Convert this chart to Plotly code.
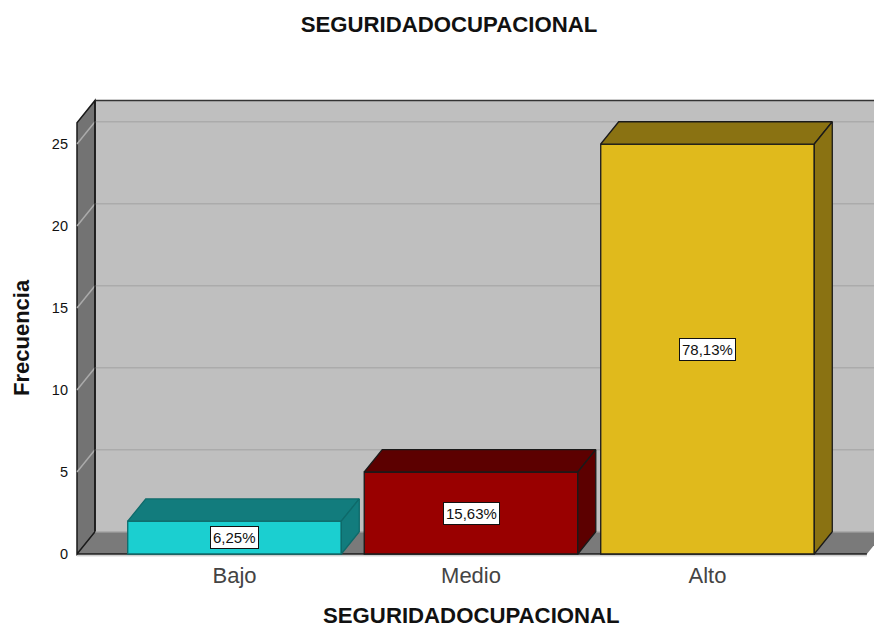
import plotly.graph_objects as go

# --- data ---
categories = ["Bajo", "Medio", "Alto"]
frequencies = [2, 5, 25]
percent_labels = ["6,25%", "15,63%", "78,13%"]
y_ticks = [0, 5, 10, 15, 20, 25]
title_text = "SEGURIDADOCUPACIONAL"
y_title = "Frecuencia"

# --- styling ---
front_colors = ["#1BCFD0", "#990000", "#E0BA1C"]
top_colors = ["#127C7D", "#5C0000", "#8A7212"]
edge_colors = ["#0E6A6A", "#1A1A1A", "#1A1A1A"]
FONT = "Liberation Sans"
BAR_WIDTH = 0.903
DEPTH_X = 0.0761   # oblique depth in category units
DEPTH_Y = 1.36     # oblique depth in value units
WALL_LEFT, WALL_RIGHT, WALL_TOP = -0.666, 2.674, 26.3

positions = list(range(len(categories)))
fig = go.Figure()


def poly(xs, ys, fill, edge, width=1.3):
    path = "M " + " L ".join(f"{x},{y}" for x, y in zip(xs, ys)) + " Z"
    return dict(type="path", path=path, xref="x", yref="y", layer="below",
                fillcolor=fill, line=dict(color=edge, width=width))


def seg(x0, y0, x1, y1, color, width=1.3):
    return dict(type="line", x0=x0, y0=y0, x1=x1, y1=y1, xref="x", yref="y",
                layer="below", line=dict(color=color, width=width))


bl, br, bt, bb = WALL_LEFT + DEPTH_X, WALL_RIGHT + DEPTH_X, WALL_TOP + DEPTH_Y, DEPTH_Y
shapes = [
    poly([bl, br, br, bl], [bb, bb, bt, bt], "#BFBFBF", "rgba(0,0,0,0)", 0),
    poly([WALL_LEFT, bl, br, WALL_RIGHT], [0, bb, bb, 0], "#7A7A7A", "rgba(0,0,0,0)", 0),
    poly([WALL_LEFT, bl, bl, WALL_LEFT], [0, bb, bt, WALL_TOP], "#737373", "#1A1A1A", 1.5),
]
for t in y_ticks:
    shapes.append(seg(bl, t + DEPTH_Y, br, t + DEPTH_Y, "#ABABAB", 1.5))
    if t > 0:
        shapes.append(seg(WALL_LEFT, t, bl, t + DEPTH_Y, "#ABABAB", 1.5))
shapes += [
    seg(bl, bt, br, bt, "#333333", 1.5),
    seg(bl, bb, bl, bt, "#1A1A1A", 1.5),
    seg(WALL_LEFT, -0.11, WALL_RIGHT, -0.11, "#BDBDBD", 1),
    seg(WALL_LEFT, 0, WALL_RIGHT, 0, "#1A1A1A", 1.5),
]

fig.add_bar(x=positions, y=frequencies, width=BAR_WIDTH, showlegend=False, hoverinfo="skip",
            marker=dict(color=front_colors, line=dict(color=edge_colors, width=1.3)))

annotations = []
for p, v, top, edge, label in zip(positions, frequencies, top_colors, edge_colors, percent_labels):
    l, r = p - BAR_WIDTH / 2, p + BAR_WIDTH / 2
    fig.add_scatter(x=[l, l + DEPTH_X, r + DEPTH_X, r, l], y=[v, v + DEPTH_Y, v + DEPTH_Y, v, v],
                    mode="lines", fill="toself", fillcolor=top, line=dict(color=edge, width=1.3),
                    showlegend=False, hoverinfo="skip")
    fig.add_scatter(x=[r, r + DEPTH_X, r + DEPTH_X, r, r], y=[v, v + DEPTH_Y, DEPTH_Y, 0, v],
                    mode="lines", fill="toself", fillcolor=top, line=dict(color=edge, width=1.3),
                    showlegend=False, hoverinfo="skip")
    annotations.append(dict(x=p, y=v / 2, xref="x", yref="y", text=label, showarrow=False,
                            bgcolor="white", bordercolor="#111111", borderwidth=1, borderpad=2,
                            font=dict(family=FONT, size=15, color="#111111")))

# paper coordinates are relative to the plot area (x 70..874, y 95..557 px)
annotations.append(dict(x=(21 - 70) / 804, y=(557 - 338) / 462, xref="paper", yref="paper",
                        text=f"<b>{y_title}</b>", showarrow=False, textangle=-90,
                        xanchor="center", yanchor="middle",
                        font=dict(family=FONT, size=22, color="#111111")))
annotations.append(dict(x=(471 - 70) / 804, y=(557 - 615) / 462, xref="paper", yref="paper",
                        text=f"<b>{title_text}</b>", showarrow=False,
                        xanchor="center", yanchor="middle",
                        font=dict(family=FONT, size=22.2, color="#111111")))

fig.update_layout(
    width=874, height=628, autosize=False,
    margin=dict(l=70, r=0, t=95, b=71, pad=0),
    paper_bgcolor="white", plot_bgcolor="white", showlegend=False,
    title=dict(text=f"<b>{title_text}</b>", x=449 / 874, xanchor="center", y=1 - 24 / 628, yanchor="middle",
               font=dict(family=FONT, size=22.2, color="#111111")),
    xaxis=dict(range=[-0.6956, 2.704], tickvals=positions, ticktext=categories, showgrid=False,
               zeroline=False, showline=False, ticks="", ticklabelstandoff=3, automargin=False,
               tickfont=dict(family=FONT, size=22, color="#444444")),
    yaxis=dict(range=[-0.183, 27.99], tickvals=y_ticks, showgrid=False, zeroline=False, showline=False,
               ticks="", ticklabelstandoff=1, automargin=False,
               tickfont=dict(family=FONT, size=14.5, color="#111111")),
    shapes=shapes, annotations=annotations,
)

fig.write_html("out.html", config={"displayModeBar": False},
               post_script="document.body.style.margin='0';")
